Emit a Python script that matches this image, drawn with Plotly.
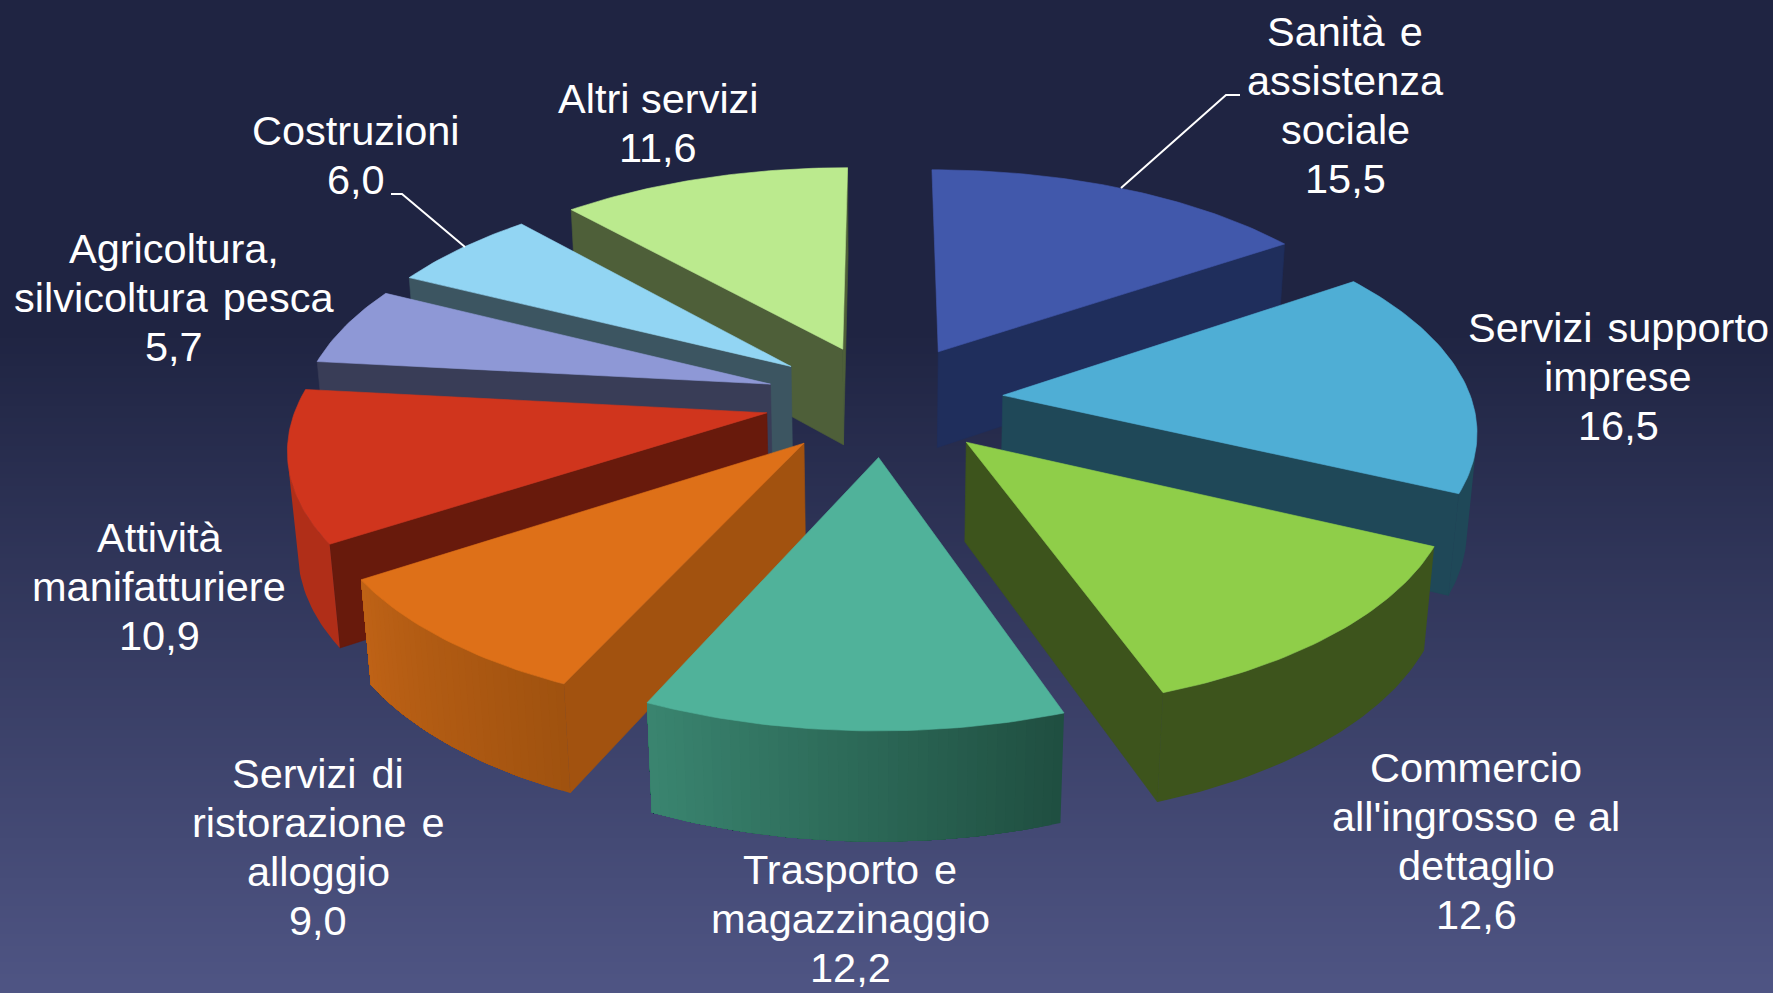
import math
import plotly.graph_objects as go

# ---- data ----
CATEGORIES = ["Sanità  e|assistenza|sociale", "Servizi  supporto|imprese",
              "Commercio|all'ingrosso  e al|dettaglio", "Trasporto  e|magazzinaggio",
              "Servizi  di|ristorazione  e|alloggio", "Attività|manifatturiere",
              "Agricoltura,|silvicoltura  pesca", "Costruzioni", "Altri servizi"]
VALUES = [15.5, 16.5, 12.6, 12.2, 9.0, 10.9, 5.7, 6.0, 11.6]

# ---- styles ----
TOP = ["#4158AB", "#4FAED5", "#8FCE49", "#50B29A", "#DE7018", "#D0351D", "#8E98D6", "#92D5F3", "#BBEA8E"]
RADIAL = ["#1F2E5C", "#1F4858", "#3D541C", "#1F4E40", "#A2520F", "#681A0C", "#393D57", "#3C5561", "#4E5F39"]
OUT_A = ["#1F2E5C", "#1F4858", "#3D541C", "#3A8570", "#BE6216", "#B02E18", "#393D57", "#3C5561", "#4E5F39"]
OUT_B = ["#1F2E5C", "#1F4858", "#3D541C", "#1F4E40", "#A0520F", "#B02E18", "#393D57", "#3C5561", "#4E5F39"]
LABEL_X = [1345, 1618, 1476, 850, 318, 159, 174, 356, 658]
LABEL_Y = [31, 327, 767, 869, 773, 537, 248, 130, 98]
LINE_H = 49.2
FONT = dict(family="Liberation Sans, Arial", size=41.5, color="#FFFFFF")

W, H = 1773, 993
CX, CY = 884, 399.7        # screen position of pie centre
F, D = 3046.0, 6.5         # perspective
ELEV = math.radians(27.85)
THICK = 0.24
PULL = 0.255
STRIP_DEG = 1.0


def proj(x, y, z):
    w = D + y * math.cos(ELEV) - z * math.sin(ELEV)
    v = y * math.sin(ELEV) + z * math.cos(ELEV)
    return CX + F * x / w, CY - F * v / w


def hex2rgb(c):
    return tuple(int(c[i:i + 2], 16) for i in (1, 3, 5))


def mix(a, b, t):
    pa, pb = hex2rgb(a), hex2rgb(b)
    return "rgb(%d,%d,%d)" % tuple(round(pa[i] + (pb[i] - pa[i]) * t) for i in range(3))


def area(pts):
    return sum(pts[i][0] * pts[(i + 1) % len(pts)][1] - pts[(i + 1) % len(pts)][0] * pts[i][1]
               for i in range(len(pts))) / 2


fig = go.Figure()


def poly(pts, color, name, lw=0.6):
    xs = [p[0] for p in pts] + [pts[0][0]]
    ys = [p[1] for p in pts] + [pts[0][1]]
    fig.add_trace(go.Scatter(x=xs, y=ys, mode="lines", fill="toself", fillcolor=color,
                             line=dict(color=color, width=lw), hoverinfo="skip",
                             name=name, showlegend=False))


total = sum(VALUES)
slices = []
acc = 0.0
for i, v in enumerate(VALUES):
    a0 = acc / total * 2 * math.pi
    acc += v
    a1 = acc / total * 2 * math.pi
    slices.append((i, a0, a1))
slices.sort(key=lambda s: -math.cos((s[1] + s[2]) / 2))

for i, a0, a1 in slices:
    mid = (a0 + a1) / 2
    ox, oy = PULL * math.sin(mid), PULL * math.cos(mid)
    n = max(2, int(math.degrees(a1 - a0) / STRIP_DEG))
    angs = [a0 + (a1 - a0) * k / n for k in range(n + 1)]
    rim = lambda a, z: proj(ox + math.sin(a), oy + math.cos(a), z)
    apex = lambda z: proj(ox, oy, z)
    name = CATEGORIES[i].replace("|", " ")
    # radial walls (clockwise screen order is positive area in a y-down frame)
    for a, sign in ((a0, 1), (a1, -1)):
        if i == 0 and a == a0:      # the first slice's 12 o'clock wall is not drawn in the original
            continue
        q = [apex(0), rim(a, 0), rim(a, -THICK), apex(-THICK)]
        if area(q) * sign < 0:
            poly(q, RADIAL[i], name)
    # outer wall: visible part; gradient walls are over-painted strip by strip so no seams show
    vis = [k for k in range(n)
           if area([rim(angs[k], 0), rim(angs[k + 1], 0), rim(angs[k + 1], -THICK), rim(angs[k], -THICK)]) < 0]
    if vis:
        k_end = vis[-1] + 1
        steps = 1 if OUT_A[i] == OUT_B[i] else len(vis)
        for s in range(steps):
            k_start = vis[0] + s
            tail = angs[k_start:k_end + 1]
            q = [rim(a, 0) for a in tail] + [rim(a, -THICK) for a in reversed(tail)]
            poly(q, mix(OUT_A[i], OUT_B[i], 1 - (s + 0.5) / steps), name, lw=0)
    # top face
    poly([apex(0)] + [rim(a, 0) for a in angs], TOP[i], name)

# background gradient
shapes = []
G0, G1, GY0 = "#1F2442", "#4F5584", 330
shapes.append(dict(type="rect", xref="x", yref="y", x0=0, x1=W, y0=0, y1=GY0,
                   fillcolor=G0, line_width=0, layer="below"))
for y in range(GY0, H, 4):
    shapes.append(dict(type="rect", xref="x", yref="y", x0=0, x1=W, y0=y, y1=y + 4.5,
                       fillcolor=mix(G0, G1, (y - GY0) / (H - GY0)), line_width=0, layer="below"))
# leader lines
shapes.append(dict(type="path", xref="x", yref="y", path="M1121,188 L1226,95 L1240,95",
                   line=dict(color="#FFFFFF", width=2)))
shapes.append(dict(type="path", xref="x", yref="y", path="M465,247 L402,194 L391,194",
                   line=dict(color="#FFFFFF", width=2)))

annots = []
for c, v, lx, ly in zip(CATEGORIES, VALUES, LABEL_X, LABEL_Y):
    lines = c.split("|") + [f"{v:.1f}".replace(".", ",")]
    for j, t in enumerate(lines):
        annots.append(dict(x=lx, y=ly + j * LINE_H, xref="x", yref="y", text=t.replace("  ", "\u00a0\u200a"),
                           showarrow=False, font=FONT, xanchor="center", yanchor="middle"))

fig.update_layout(width=W, height=H, margin=dict(l=0, r=0, t=0, b=0), showlegend=False,
                  paper_bgcolor=G0, plot_bgcolor="rgba(0,0,0,0)", shapes=shapes, annotations=annots,
                  xaxis=dict(range=[0, W], visible=False, fixedrange=True),
                  yaxis=dict(range=[H, 0], visible=False, fixedrange=True))
fig.write_html("out.html", config={"displayModeBar": False},
               post_script="document.body.style.margin='0';document.documentElement.style.background='#1F2442';")
